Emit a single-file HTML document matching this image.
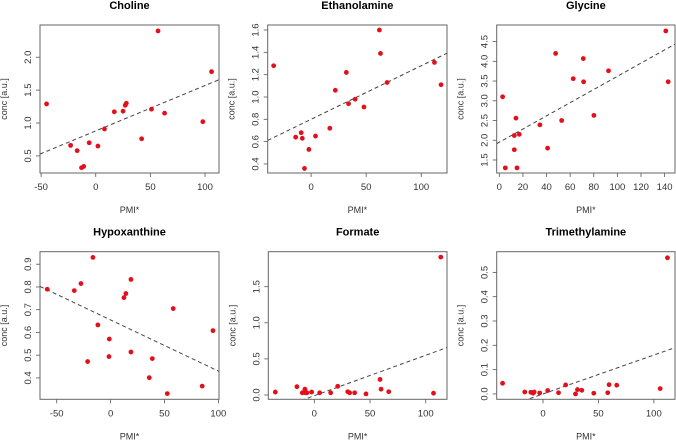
<!DOCTYPE html>
<html><head><meta charset="utf-8"><style>
body{margin:0;background:#fff}
svg{display:block;font-family:"Liberation Sans",sans-serif}
</style></head><body>
<svg id="c" width="676" height="440" viewBox="0 0 676 440"></svg>
<script>
// ---- data ----
const cholineX=[-45,-23,-17,-13,-11,-6,2,8,17,25,27,28,42,51,57,63,98,106];
const cholineY=[1.29,0.66,0.58,0.32,0.34,0.70,0.65,0.91,1.17,1.18,1.27,1.30,0.76,1.21,2.40,1.15,1.02,1.78];
const ethX=[-34,-14,-9,-8,-6,-2,4,17,22,32,34,40,48,62,63,69,112,118];
const ethY=[1.28,0.64,0.68,0.63,0.36,0.53,0.65,0.72,1.06,1.22,0.94,0.98,0.91,1.60,1.39,1.13,1.31,1.11];
const glyX=[2.8,5.1,12.7,12.7,14.1,15,16.9,34.4,40.9,47.7,52.8,62.6,71.1,71.4,80.1,92.5,141,143];
const glyY=[3.10,1.30,2.12,1.76,2.56,1.30,2.15,2.39,1.80,4.20,2.50,3.56,4.07,3.48,2.63,3.76,4.77,3.48];
const hypX=[-58.8,-33.7,-27.5,-16.4,-21.3,-11.8,-1.2,-1.5,12.4,14.2,18.9,18.9,38.7,35.9,52.6,58.1,85,95];
const hypY=[0.79,0.784,0.815,0.93,0.472,0.633,0.571,0.494,0.753,0.771,0.833,0.514,0.485,0.401,0.331,0.705,0.364,0.608];
const forX=[-35,-15.6,-10.8,-8.4,-8,-6.6,-2.4,4.8,14.7,21,30,31.7,36.2,46.4,59,59.9,66.8,107,113.5];
const forY=[0.04,0.115,0.03,0.08,0.03,0.03,0.04,0.03,0.03,0.12,0.045,0.03,0.03,0.015,0.215,0.08,0.045,0.025,1.91];
const tmaX=[-36.5,-16.5,-11,-9,-8,-3,4.2,14,20.4,29.3,31.1,35,45.8,58.4,59.6,66.5,105.7,112.3];
const tmaY=[0.044,0.008,0.007,0.003,0.008,0.004,0.014,0.005,0.037,0.0,0.018,0.015,0.003,0.005,0.038,0.036,0.022,0.56];
// fit lines: [intercept, slope]
const cholineFit=[0.88,0.0069];
const ethFit=[0.80,0.0048];
const glyFit=[1.95,0.0167];
const hypFit=[0.655,-0.00225];
const forFit=[-0.01,0.0056];
const tmaFit=[0.0,0.0016];
const cholineXT=[-50,0,50,100], cholineYT=[0.5,1.0,1.5,2.0];
const ethXT=[0,50,100], ethYT=[0.4,0.6,0.8,1.0,1.2,1.4,1.6];
const glyXT=[0,20,40,60,80,100,120,140], glyYT=[1.5,2.0,2.5,3.0,3.5,4.0,4.5];
const hypXT=[-50,0,50,100], hypYT=[0.4,0.5,0.6,0.7,0.8,0.9];
const forXT=[0,50,100], forYT=[0.0,0.5,1.0,1.5];
const tmaXT=[0,50,100], tmaYT=[0.0,0.1,0.2,0.3,0.4,0.5];

const panels=[
 {name:"Choline",xs:cholineX,ys:cholineY,fit:cholineFit,xt:cholineXT,yt:cholineYT,box:[40,25,219,173],xd:[-51,112.8],yd:[0.24,2.49],ox:0,oy:0},
 {name:"Ethanolamine",xs:ethX,ys:ethY,fit:ethFit,xt:ethXT,yt:ethYT,box:[267.7,25,447,173],xd:[-39.4,123.4],yd:[0.319,1.645],ox:225,oy:0},
 {name:"Glycine",xs:glyX,ys:glyY,fit:glyFit,xt:glyXT,yt:glyYT,box:[496.7,25,675,173],xd:[-2.2,148.8],yd:[1.17,4.92],ox:446,oy:0},
 {name:"Hypoxanthine",xs:hypX,ys:hypY,fit:hypFit,xt:hypXT,yt:hypYT,box:[40,251.7,219,399.3],xd:[-65.5,100.6],yd:[0.306,0.955],ox:0,oy:220},
 {name:"Formate",xs:forX,ys:forY,fit:forFit,xt:forXT,yt:forYT,box:[268.3,251.7,447,399.3],xd:[-41.3,119.1],yd:[-0.06,1.985],ox:225,oy:220},
 {name:"Trimethylamine",xs:tmaX,ys:tmaY,fit:tmaFit,xt:tmaXT,yt:tmaYT,box:[496.7,251.7,675,399.3],xd:[-41.8,119.1],yd:[-0.022,0.585],ox:446,oy:220}
];
const NS="http://www.w3.org/2000/svg";
const svg=document.getElementById('c');
function mk(t,a,p){const e=document.createElementNS(NS,t);for(const k in a)e.setAttribute(k,a[k]);(p||svg).appendChild(e);return e;}
function fmt(v,t){const d=t.some(x=>Math.abs(x*10-Math.round(x*10))>1e-6)?2:(t.some(x=>!Number.isInteger(x))?1:0);return v.toFixed(d);}
panels.forEach(P=>{
 const [x0,y0,x1,y1]=P.box;
 const sx=v=>x0+(v-P.xd[0])/(P.xd[1]-P.xd[0])*(x1-x0);
 const sy=v=>y1-(v-P.yd[0])/(P.yd[1]-P.yd[0])*(y1-y0);
 const g=mk('g',{});
 
 
 const cx=(x0+x1)/2;
 const t=mk('text',{x:cx,y:y0-16,'text-anchor':'middle','font-size':'11','font-weight':'bold',fill:'#000'},g);
 t.textContent=P.name;
 
 
 const xl=mk('text',{x:cx,y:y1+40,'text-anchor':'middle','font-size':'9','fill':'#333'},g);
 xl.textContent='PMI*';
 
 
 const ylx=x0-33, ylyc=(y0+y1)/2;
 const yl=mk('text',{x:ylx,y:ylyc,'text-anchor':'middle','font-size':'9',fill:'#333',transform:`rotate(-90 ${ylx} ${ylyc})`},g);
 yl.textContent='conc [a.u.]';
 
 
 const cid='clip'+P.ox+'_'+P.oy;
 const cp=mk('clipPath',{id:cid},g);mk('rect',{x:x0,y:y0,width:x1-x0,height:y1-y0},cp);
 P.xt.forEach(v=>{const X=sx(v);
  mk('line',{x1:X,y1:y1,x2:X,y2:y1+4,stroke:'#555','stroke-width':0.8},g);
  const tl=mk('text',{x:X,y:y1+17,'text-anchor':'middle','font-size':'9.5',fill:'#333'},g);
  tl.textContent=String(v);
  
  });
 P.yt.forEach(v=>{const Y=sy(v);
  mk('line',{x1:x0-4,y1:Y,x2:x0,y2:Y,stroke:'#555','stroke-width':0.8},g);
  const tx=x0-9;
  const tl=mk('text',{x:tx,y:Y,'text-anchor':'middle','font-size':'9.5',fill:'#333',transform:`rotate(-90 ${tx} ${Y})`},g);
  tl.textContent=fmt(v,P.yt);
  
  });
 const b=mk('rect',{x:x0,y:y0,width:x1-x0,height:y1-y0,fill:'none',stroke:'#666','stroke-width':1},g);
 
 
 const fl=mk('line',{x1:sx(P.xd[0]),y1:sy(P.fit[0]+P.fit[1]*P.xd[0]),x2:sx(P.xd[1]),y2:sy(P.fit[0]+P.fit[1]*P.xd[1]),stroke:'#444','stroke-width':1,'stroke-dasharray':'4,3','clip-path':`url(#${cid})`},g);
 
 
 P.xs.forEach((v,i)=>{
  const c=mk('circle',{cx:sx(v),cy:sy(P.ys[i]),r:2.4,fill:'#e3101c'},g);
  
  });
});
</script>
</body></html>
